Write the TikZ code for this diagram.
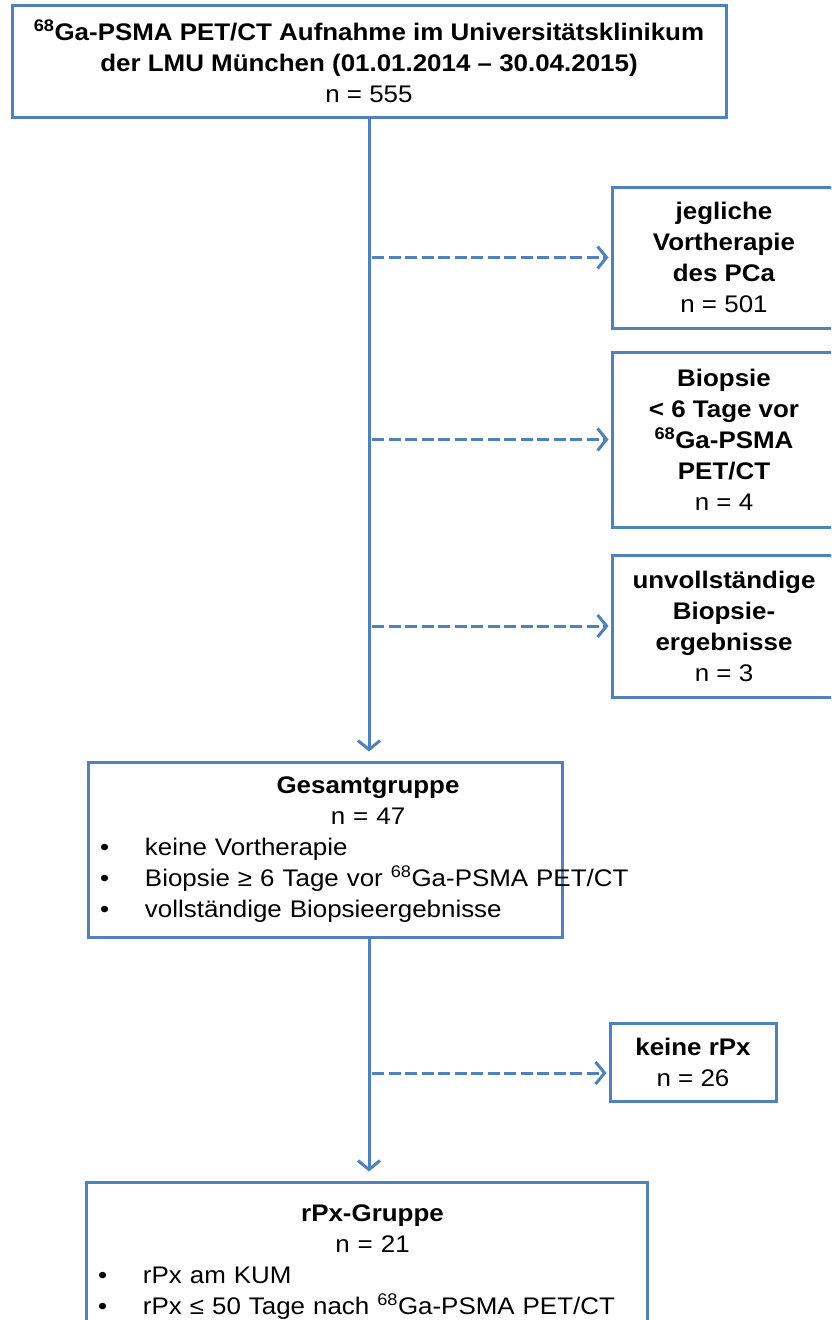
\documentclass[tikz,border=0pt]{standalone}
\usepackage{fontspec}
\setmainfont{Liberation Sans}[FakeStretch=1.08]
\usetikzlibrary{arrows.meta,positioning}

\definecolor{flowblue}{RGB}{79,129,189}

% centred heading inside a left aligned box, moved right by #1/2
\newcommand{\boxhead}[2]{\makebox[\linewidth]{\hspace*{#1}#2}}
\newcommand{\bulletline}[1]{\mbox{\makebox[45pt][l]{\textbullet}#1}}

\tikzset{
	box/.style={draw=flowblue,line width=3pt,rectangle,align=center,inner sep=4pt,
		font=\fontsize{24}{31}\selectfont},
	exclude/.style={box,minimum width=224pt},
	group/.style={box,align=left,inner xsep=12pt},
	flow/.style={draw=flowblue,line width=3pt,-{Straight Barb[length=9pt,width=22pt]}},
	skip/.style={flow,dash pattern=on 12pt off 4.5pt,shorten <=3pt,shorten >=2pt},
}

\begin{document}
\begin{tikzpicture}[x=1pt,y=-1pt]

	\clip (0,0) rectangle (831,1320);
	\fill[white] (0,0) rectangle (831,1320);

	\node[box,minimum width=714pt,minimum height=112pt] (scan) at (369,61)
		{\textbf{\textsuperscript{68}Ga-PSMA PET/CT Aufnahme im Universitätsklinikum}\\
		 \textbf{der LMU München (01.01.2014 – 30.04.2015)}\\
		 n = 555};

	\node[exclude,minimum height=141pt] (prior)      at (724,257.5)
		{\textbf{jegliche}\\\textbf{Vortherapie}\\\textbf{des PCa}\\n = 501};
	\node[exclude,minimum height=175pt] (biopsy)     at (724,439.5)
		{\textbf{Biopsie}\\\textbf{< 6 Tage vor}\\\textbf{\textsuperscript{68}Ga-PSMA}\\\textbf{PET/CT}\\n = 4};
	\node[exclude,minimum height=142pt] (incomplete) at (724,626)
		{\textbf{unvollständige}\\\textbf{Biopsie-}\\\textbf{ergebnisse}\\n = 3};

	\node[group,text width=450pt,minimum height=175pt] (total) at (325,849.5)
		{\boxhead{86pt}{\textbf{Gesamtgruppe}}\\
		 \boxhead{86pt}{n = 47}\\
		 \bulletline{keine Vortherapie}\\
		 \bulletline{Biopsie ≥ 6 Tage vor \textsuperscript{68}Ga-PSMA PET/CT}\\
		 \bulletline{vollständige Biopsieergebnisse}};

	\node[box,minimum width=166pt,minimum height=78pt] (norpx) at (693,1062)
		{\textbf{keine rPx}\\n = 26};

	\node[group,text width=537pt,minimum height=160pt] (rpx) at (366.5,1262)
		{\boxhead{12pt}{\textbf{rPx-Gruppe}}\\
		 \boxhead{12pt}{n = 21}\\
		 \bulletline{rPx am KUM}\\
		 \bulletline{rPx ≤ 50 Tage nach \textsuperscript{68}Ga-PSMA PET/CT}};

	\coordinate (norpxin) at ([yshift=-11pt]norpx.west);

	% main line down the middle
	\draw[flow,shorten >=9pt] (scan.south) -- (scan.south |- total.north);
	\draw[flow,shorten >=9pt] (scan.south |- total.south) -- (scan.south |- rpx.north);

	% exclusions branch off to the right
	\foreach \side in {prior,biopsy,incomplete}
		\draw[skip] (scan.south |- \side.west) -- (\side.west);
	\draw[skip] (scan.south |- norpxin) -- (norpxin);

\end{tikzpicture}
\end{document}
